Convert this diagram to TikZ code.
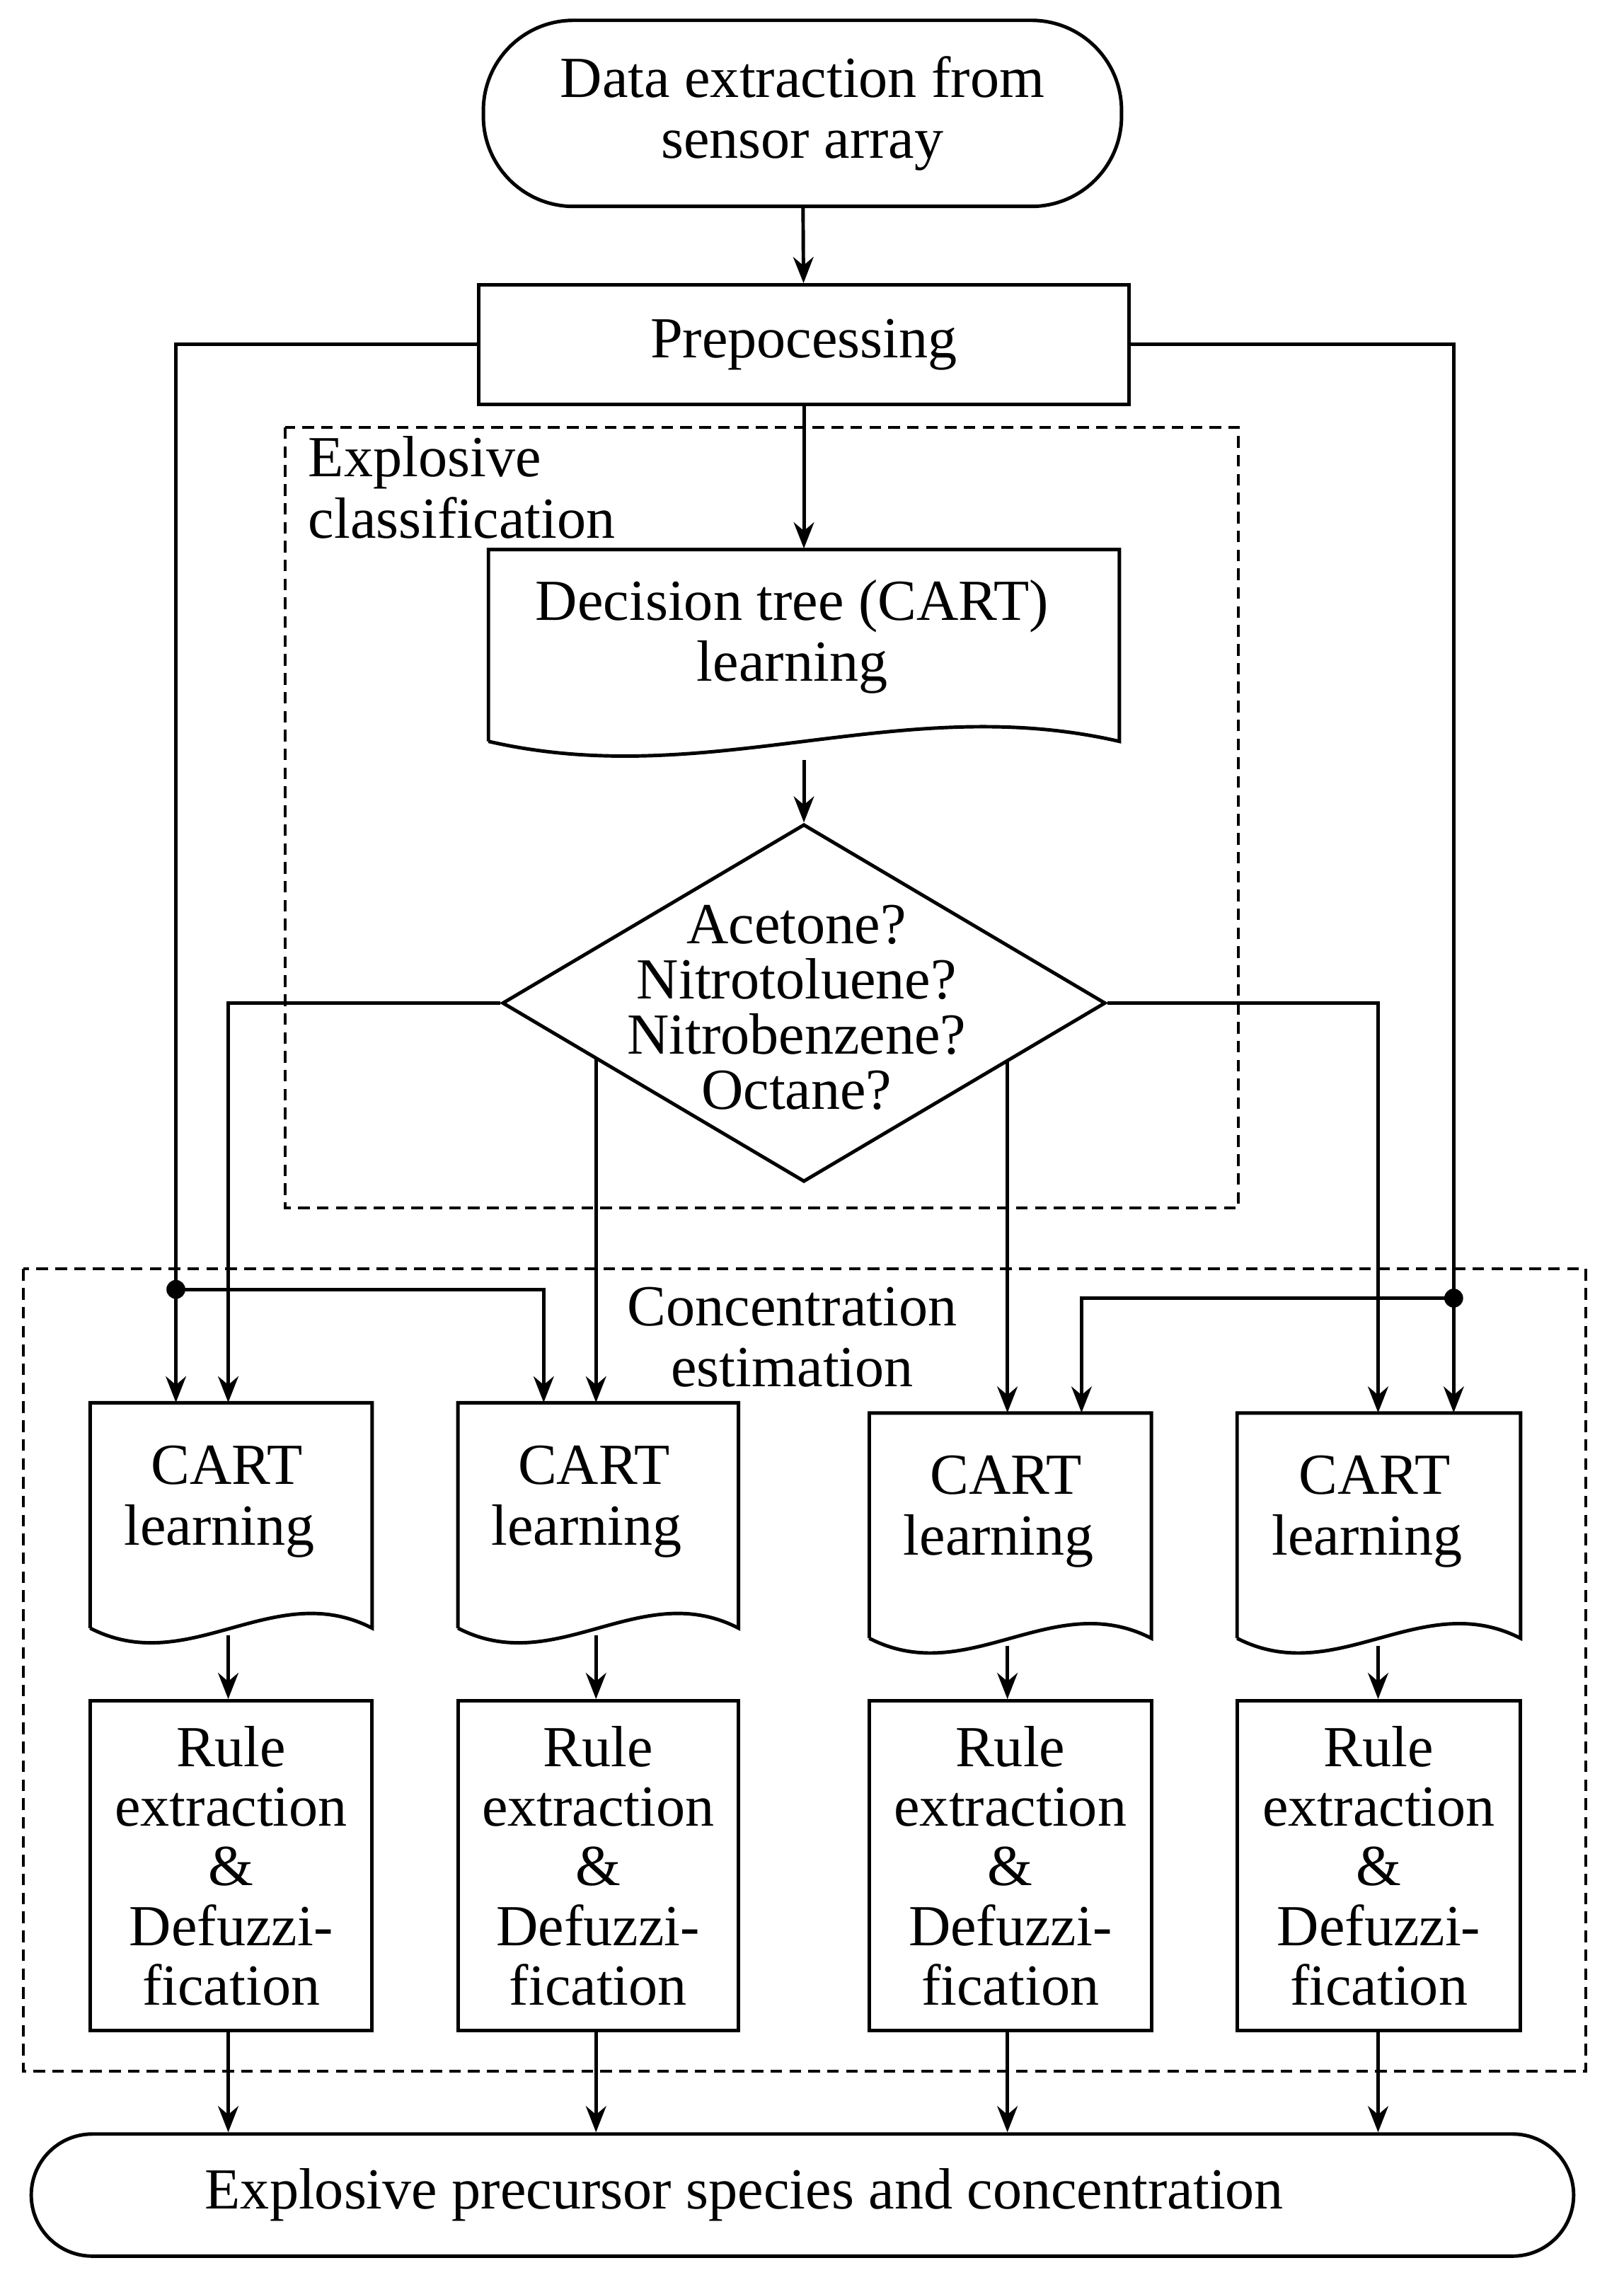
\documentclass[tikz,border=0pt]{standalone}
\usepackage{fontspec}
\setmainfont{Liberation Serif}
\usetikzlibrary{shapes.geometric,arrows.meta}
\begin{document}
\begin{tikzpicture}[x=1pt,y=-1pt,
  every node/.style={font=\fontsize{40}{42}\selectfont, align=center},
  ln/.style={line width=2.4pt},
  ar/.style={ln,-{Stealth[length=18pt,width=14pt]}},
  box/.style={draw,ln,minimum width=#1,inner sep=0},
  dsh/.style={line width=2pt,dash pattern=on 8pt off 5pt},
  dot/.style={circle,fill,inner sep=0,minimum size=13pt}]
\useasboundingbox (0,0) rectangle (1117,1565);
% dashed frames
\draw[dsh] (196,294) rectangle (852,831);
\draw[dsh] (16,873) rectangle (1091,1425);
\node[anchor=north west,align=left,inner sep=0] (lbl1) at (212,300) {Explosive\\classification};
\node (lbl2) at (545,920) {Concentration\\estimation};
% top terminal
\node[draw,ln,rounded corners=62pt,minimum width=439pt,minimum height=128pt] (start) at (552,78) {Data extraction from\\sensor array};
\node[box=447pt,minimum height=82pt] (pre) at (553,237) {Prepocessing};
\newcommand\docshape[4]{% x1,y1,x2,y2
  \draw[ln] (#1,#4-15) -- (#1,#2) -- (#3,#2) -- (#3,#4-15)
   .. controls ({#1+0.65*(#3-#1)},#4-50) and ({#1+0.35*(#3-#1)},#4+20) .. (#1,#4-15);}
\node[minimum width=434pt,minimum height=147pt,inner sep=0] (dt) at (553,451) {};
\docshape{336}{378}{770}{525}
\node at (545,438) {Decision tree (CART)\\learning};
\node[draw,ln,diamond,minimum width=415pt,minimum height=246pt,inner sep=0,aspect=1.7] (dia) at (553,690) {};
\node at (548,693) {Acetone?\\[-4pt]Nitrotoluene?\\[-4pt]Nitrobenzene?\\[-4pt]Octane?};
% CART docs
\foreach \i/\xa/\xb/\ya/\yb in {1/62/256/965/1135,2/315/508/965/1135,3/598/792/972/1142,4/851/1046/972/1142}{
  \node[minimum width={\xb-\xa},minimum height={\yb-\ya},inner sep=0] (c\i) at ({(\xa+\xb)/2},{(\ya+\yb)/2}) {};
  \docshape{\xa}{\ya}{\xb}{\yb}
  \node at ({(\xa+\xb)/2-8},{\ya+68}) {\ CART\\learning};
  \node[box={\xb-\xa},minimum height=227pt] (r\i) at ({(\xa+\xb)/2},1283.5) {Rule\\[-1pt]extraction\\[-1pt]\&\\[-1pt]Defuzzi-\\[-1pt]fication};
}
\node[draw,ln,rounded corners=42pt,minimum width=1061pt,minimum height=84pt] (end) at (552,1510) {\hspace{-80pt}Explosive precursor species and concentration};
% connectors
\draw[ar] (start) -- (pre);
\draw[ar] (pre) -- (dt);
\draw[ar] (dt.south) ++(0,-2) -- (dia.north);
\coordinate (d1) at (121,887); \coordinate (d4) at (1000,893);
\draw[ar] (pre.west) -| (c1.north -| d1);
\draw[ar] (pre.east) -| (c4.north -| d4);
\node[dot] at (d1) {}; \node[dot] at (d4) {};
\draw[ar] (d1) -| (c2.north -| 374,0);
\draw[ar] (d4) -| (c3.north -| 744,0);
\draw[ar] (dia.west) -| (c1.north -| 157,0);
\draw[ar] (dia.east) -| (c4.north -| 948,0);
\draw[ar] (410,728) -- (c2.north -| 410,0);
\draw[ar] (693,730) -- (c3.north -| 693,0);
\foreach \i/\x in {1/157,2/410,3/693,4/948}{
  \draw[ar] (\x,{\i<3 ? 1125 : 1132}) -- (r\i.north -| \x,0);
  \draw[ar] (r\i.south -| \x,0) -- (end.north -| \x,0);
}
\end{tikzpicture}
\end{document}
